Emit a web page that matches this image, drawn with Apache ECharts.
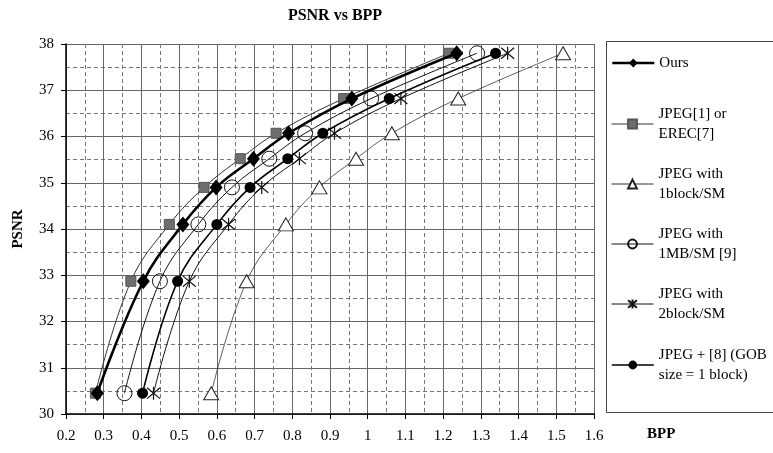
<!DOCTYPE html>
<html>
<head>
<meta charset="utf-8">
<script src="https://cdn.jsdelivr.net/npm/echarts@6/dist/echarts.min.js"></script>
<style>
html,body{margin:0;padding:0;background:#fff;}
#c{width:773px;height:453px;}
</style>
</head>
<body>
<div id="c"></div>
<script>
// ---- data (BPP, PSNR) ----
var psnrLevels = [30.45, 32.87, 34.1, 34.9, 35.52, 36.07, 36.82, 37.8];
var bppOurs    = [0.283, 0.405, 0.510, 0.598, 0.697, 0.790, 0.958, 1.236];
var bppJpeg1   = [0.278, 0.372, 0.474, 0.566, 0.662, 0.757, 0.936, 1.216];
var bpp1block  = [0.585, 0.679, 0.783, 0.872, 0.969, 1.064, 1.240, 1.518];
var bpp1MB     = [0.355, 0.449, 0.551, 0.640, 0.739, 0.834, 1.009, 1.290];
var bpp2block  = [0.432, 0.527, 0.631, 0.719, 0.819, 0.912, 1.088, 1.371];
var bppGOB     = [0.403, 0.496, 0.600, 0.688, 0.788, 0.881, 1.057, 1.339];

var seriesNames = [
  'Ours',
  'JPEG[1] or\nEREC[7]',
  'JPEG with\n1block/SM',
  'JPEG with\n1MB/SM [9]',
  'JPEG with\n2block/SM',
  'JPEG + [8] (GOB\nsize = 1 block)'
];
var xTicks = [0.2,0.3,0.4,0.5,0.6,0.7,0.8,0.9,1,1.1,1.2,1.3,1.4,1.5,1.6];
var yTicks = [30,31,32,33,34,35,36,37,38];

function pairs(xs){ return xs.map(function(x,i){ return [x, psnrLevels[i]]; }); }

var FONT = 'Liberation Serif';
var chart = echarts.init(document.getElementById('c'), null, {renderer:'canvas'});

var starPath = 'path://M0,0L10,10M10,0L0,10M5,-1L5,11';

var legendTops = [53, 94, 154, 214, 274, 335];
var legendLineW = [2.6, 1, 1, 1, 1, 1.6];
var legends = seriesNames.map(function(n, i){
  var two = n.indexOf('\n') >= 0;
  return {
    data: [{name: n, lineStyle: {width: legendLineW[i]}}],
    left: 611,
    top: legendTops[i],
    padding: 0,
    orient: 'vertical',
    itemWidth: 42,
    itemHeight: 11,
    itemGap: 0,
    selectedMode: false,
    textStyle: {
      fontFamily: FONT, fontSize: 15, color: '#000', lineHeight: 20,
      padding: two ? [20, 0, 0, 0] : 0
    }
  };
});

var option = {
  animation: false,
  backgroundColor: '#fff',
  title: {
    text: 'PSNR vs BPP',
    left: 330, top: 3, textAlign: 'center',
    textStyle: {fontFamily: FONT, fontSize: 16, fontWeight: 'bold', color: '#000'}
  },
  legend: legends,
  graphic: [{
    type: 'rect', silent: true,
    shape: {x: 606.5, y: 41.5, width: 175, height: 371},
    style: {fill: 'none', stroke: '#444', lineWidth: 1}
  }],
  grid: {left: 66, right: 179, top: 44, bottom: 39, outerBoundsMode: 'none', containLabel: false},
  xAxis: {
    type: 'value', min: 0.2, max: 1.6, interval: 0.1,
    name: 'BPP', nameLocation: 'end', nameGap: 53,
    nameTextStyle: {fontFamily: FONT, fontSize: 15, fontWeight: 'bold', color: '#000', verticalAlign: 'top', lineHeight: 40},
    axisLine: {lineStyle: {color: '#000', width: 1.5}},
    axisTick: {show: true, length: 5, lineStyle: {color: '#000'}},
    axisLabel: {
      fontFamily: FONT, fontSize: 15, color: '#000', margin: 15,
      formatter: function(v){ var r = Math.round(v*10)/10; return xTicks.indexOf(r) >= 0 ? String(r) : ''; }
    },
    splitLine: {show: true, lineStyle: {color: '#666', width: 1}},
    minorTick: {show: false, splitNumber: 2},
    minorSplitLine: {show: true, lineStyle: {color: '#777', width: 1, type: [4, 3]}}
  },
  yAxis: {
    type: 'value', min: 30, max: 38, interval: 1,
    name: 'PSNR', nameLocation: 'middle', nameGap: 40, nameRotate: 90,
    nameTextStyle: {fontFamily: FONT, fontSize: 15, fontWeight: 'bold', color: '#000'},
    axisLine: {show: true, lineStyle: {color: '#000', width: 1.5}},
    axisTick: {show: true, length: 5, lineStyle: {color: '#000'}},
    axisLabel: {
      fontFamily: FONT, fontSize: 15, color: '#000', margin: 12,
      formatter: function(v){ return yTicks.indexOf(Math.round(v)) >= 0 ? String(Math.round(v)) : ''; }
    },
    splitLine: {show: true, lineStyle: {color: '#666', width: 1}},
    minorTick: {show: false, splitNumber: 2},
    minorSplitLine: {show: true, lineStyle: {color: '#777', width: 1, type: [4, 3]}}
  },
  series: [
    {
      name: seriesNames[0], type: 'line', data: pairs(bppOurs), smooth: 0.4, z: 10,
      symbol: 'diamond', symbolSize: [13, 16],
      lineStyle: {color: '#000', width: 2.6},
      itemStyle: {color: '#000', borderColor: '#000', borderWidth: 0}
    },
    {
      name: seriesNames[1], type: 'line', data: pairs(bppJpeg1), smooth: 0.4, z: 5,
      symbol: 'rect', symbolSize: 10,
      lineStyle: {color: '#333', width: 1},
      itemStyle: {color: '#6e6e6e', borderColor: '#555', borderWidth: 1}
    },
    {
      name: seriesNames[2], type: 'line', data: pairs(bpp1block), smooth: 0.4, z: 4,
      symbol: 'triangle', symbolSize: [15, 13],
      lineStyle: {color: '#333', width: 0.8},
      itemStyle: {color: '#fff', borderColor: '#222', borderWidth: 1}
    },
    {
      name: seriesNames[3], type: 'line', data: pairs(bpp1MB), smooth: 0.4, z: 4,
      symbol: 'circle', symbolSize: 15,
      lineStyle: {color: '#111', width: 1},
      itemStyle: {color: 'rgba(255,255,255,0)', borderColor: '#111', borderWidth: 1}
    },
    {
      name: seriesNames[4], type: 'line', data: pairs(bpp2block), smooth: 0.4, z: 4,
      symbol: starPath, symbolSize: 13,
      lineStyle: {color: '#111', width: 1},
      itemStyle: {color: '#111', borderColor: '#111', borderWidth: 1.2}
    },
    {
      name: seriesNames[5], type: 'line', data: pairs(bppGOB), smooth: 0.4, z: 6,
      symbol: 'circle', symbolSize: 11,
      lineStyle: {color: '#000', width: 1.6},
      itemStyle: {color: '#000', borderColor: '#000', borderWidth: 0}
    }
  ]
};
chart.setOption(option);
</script>
</body>
</html>
